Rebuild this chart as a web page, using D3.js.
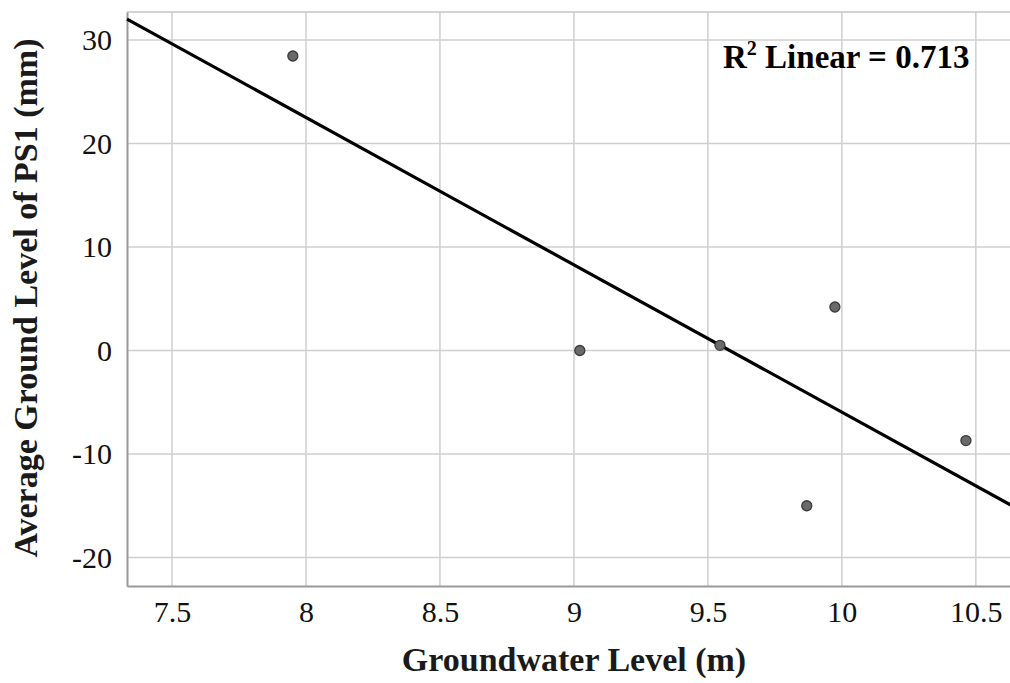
<!DOCTYPE html>
<html><head><meta charset="utf-8">
<script src="https://cdn.jsdelivr.net/npm/d3@7"></script>
<style>body{margin:0;background:#fff}</style>
</head><body>
<svg id="c" width="1010" height="683"></svg>
<script>
const groundwater = [7.951, 9.022, 9.545, 9.974, 9.869, 10.463];
const groundLevel = [28.45, 0.0, 0.5, 4.2, -15.0, -8.7];
const xTicks = [7.5, 8, 8.5, 9, 9.5, 10, 10.5];
const yTicks = [-20, -10, 0, 10, 20, 30];
const r2Label = "0.713";

const svg = d3.select("#c");
const L = 127, R = 1012, T = 12, B = 586;
const x = d3.scaleLinear().domain([7.332, 10.635]).range([L, R]);
const y = d3.scaleLinear().domain([-22.75, 32.7]).range([B, T]);
const serif = "'Liberation Serif','Times New Roman',serif";

// grid
svg.append("g").selectAll("line").data(xTicks).join("line")
  .attr("x1", d => x(d)).attr("x2", d => x(d)).attr("y1", T).attr("y2", B)
  .attr("stroke", "#cfcfcf").attr("stroke-width", 1.5);
svg.append("g").selectAll("line").data(yTicks).join("line")
  .attr("x1", L).attr("x2", R).attr("y1", d => y(d)).attr("y2", d => y(d))
  .attr("stroke", "#cfcfcf").attr("stroke-width", 1.5);
// top border
svg.append("line").attr("x1", L).attr("x2", R).attr("y1", T).attr("y2", T)
  .attr("stroke", "#c4c4c4").attr("stroke-width", 1.5);

// axes
const xAxis = svg.append("g").attr("transform", `translate(0,${B})`)
  .call(d3.axisBottom(x).tickValues(xTicks).tickSize(0).tickPadding(15).tickFormat(d => String(d)));
const yAxis = svg.append("g").attr("transform", `translate(${L},0)`)
  .call(d3.axisLeft(y).tickValues(yTicks).tickSize(0).tickPadding(15).tickFormat(d => String(d)));
[xAxis, yAxis].forEach(g => {
  g.select(".domain").attr("stroke", "#9a9a9a").attr("stroke-width", 2);
  g.selectAll("text").attr("font-family", serif).attr("font-size", 30).attr("fill", "#111");
});
xAxis.selectAll("text").attr("dy", "0.71em");

// regression line from data
const mx = d3.mean(groundwater), my = d3.mean(groundLevel);
let sxy = 0, sxx = 0;
groundwater.forEach((v, i) => { sxy += (v - mx) * (groundLevel[i] - my); sxx += (v - mx) ** 2; });
const slope = sxy / sxx, icpt = my - slope * mx;
const [d0, d1] = x.domain();
svg.append("line")
  .attr("x1", x(d0)).attr("y1", y(icpt + slope * d0))
  .attr("x2", x(d1)).attr("y2", y(icpt + slope * d1))
  .attr("stroke", "#000").attr("stroke-width", 3.2);

// points
svg.append("g").selectAll("circle").data(groundwater).join("circle")
  .attr("cx", d => x(d)).attr("cy", (d, i) => y(groundLevel[i]))
  .attr("r", 5).attr("fill", "#6a6a6a").attr("stroke", "#3a3a3a").attr("stroke-width", 1.3);

// R2 label
const t = svg.append("text").attr("x", 723).attr("y", 68)
  .attr("font-family", serif).attr("font-size", 33).attr("font-weight", "bold").attr("fill", "#000");
t.append("tspan").text("R");
t.append("tspan").attr("font-size", 20).attr("dy", -13).text("2");
t.append("tspan").attr("dy", 13).text(" Linear = " + r2Label);

// axis titles
svg.append("text").attr("x", 574).attr("y", 671).attr("text-anchor", "middle")
  .attr("font-family", serif).attr("font-size", 34).attr("font-weight", "bold").attr("fill", "#1a1a1a")
  .text("Groundwater Level (m)");
svg.append("text").attr("transform", "translate(37,298) rotate(-90)").attr("text-anchor", "middle")
  .attr("font-family", serif).attr("font-size", 34).attr("font-weight", "bold").attr("fill", "#1a1a1a")
  .text("Average Ground Level of PS1 (mm)");
</script>
</body></html>
